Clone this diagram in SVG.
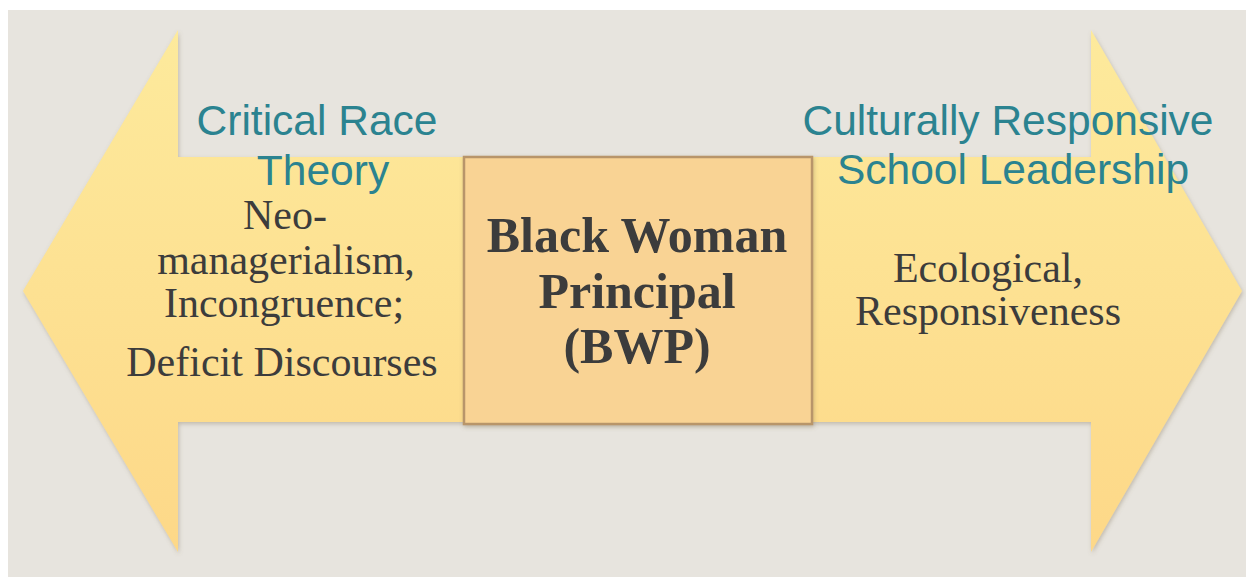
<svg xmlns="http://www.w3.org/2000/svg" width="1246" height="577" viewBox="0 0 1246 577">
  <defs>
    <linearGradient id="arrowFill" x1="0" y1="0" x2="0" y2="1">
      <stop offset="0" stop-color="#fdea9c"/>
      <stop offset="1" stop-color="#fdd888"/>
    </linearGradient>
    <filter id="softShadow" x="-5%" y="-5%" width="110%" height="115%">
      <feDropShadow dx="1" dy="2" stdDeviation="2" flood-color="#7a6a50" flood-opacity="0.35"/>
    </filter>
  </defs>
  <style>
    .teal { font-family: "Liberation Sans", Arial, sans-serif; font-size: 42.5px; fill: #2b8390; text-anchor: middle; }
    .serif { font-family: "Liberation Serif", "Times New Roman", serif; font-size: 42px; fill: #3c3c3c; text-anchor: middle; }
    .bold { font-family: "Liberation Serif", "Times New Roman", serif; font-size: 50px; font-weight: bold; fill: #3c3c3c; text-anchor: middle; }
  </style>

  <!-- page -->
  <rect x="0" y="0" width="1246" height="577" fill="#ffffff"/>
  <rect x="8" y="10" width="1238" height="567" fill="#e7e4de"/>

  <!-- double-headed arrow -->
  <g id="connectors">
    <path d="M23,291 L178,30 L178,157 L1091,157 L1091,30 L1242,291 L1091,552 L1091,422 L178,422 L178,552 Z"
          fill="url(#arrowFill)" filter="url(#softShadow)"/>
  </g>

  <!-- left side: Critical Race Theory -->
  <g id="crt">
    <text class="teal" x="317" y="135">Critical Race</text>
    <text class="teal" x="323" y="185">Theory</text>
    <text class="serif" x="285" y="229">Neo-</text>
    <text class="serif" x="286" y="274">managerialism,</text>
    <text class="serif" x="284" y="317">Incongruence;</text>
    <text class="serif" x="282" y="376">Deficit Discourses</text>
  </g>

  <!-- right side: Culturally Responsive School Leadership -->
  <g id="crsl">
    <text class="teal" x="1008" y="135">Culturally Responsive</text>
    <text class="teal" x="1013" y="184">School Leadership</text>
    <text class="serif" x="988" y="282">Ecological,</text>
    <text class="serif" x="988" y="325">Responsiveness</text>
  </g>

  <!-- centre: Black Woman Principal -->
  <g id="bwp">
    <rect x="464" y="157" width="348" height="267" fill="#f9d394" stroke="#b8956a" stroke-width="2.5" filter="url(#softShadow)"/>
    <text class="bold" x="637" y="252">Black Woman</text>
    <text class="bold" x="637" y="308">Principal</text>
    <text class="bold" x="637" y="363">(BWP)</text>
  </g>
</svg>
